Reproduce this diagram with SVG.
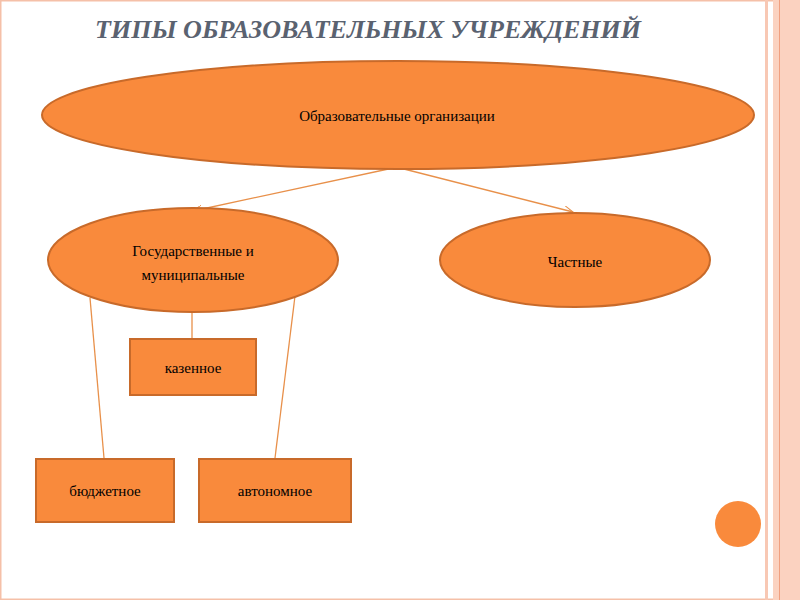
<svg xmlns="http://www.w3.org/2000/svg" width="800" height="600" viewBox="0 0 800 600">
<style>
.n{fill:#f98a3c;stroke:#c86a2a;stroke-width:2}
.t{font-family:"Liberation Serif",serif;font-size:15px;fill:#000;text-anchor:middle}
.c{stroke:#e8904a;stroke-width:1.3;fill:none}
</style>
<defs><marker id="a" markerWidth="10" markerHeight="8" refX="9" refY="4" orient="auto" markerUnits="userSpaceOnUse"><path d="M0,0 L9,4 L0,8" fill="none" stroke="#e8904a"/></marker></defs>
<rect width="800" height="600" fill="#fff"/>
<rect x="0" y="0" width="800" height="600" fill="none" stroke="#f5c0a8" stroke-width="3"/>
<rect x="765" y="0" width="3" height="600" fill="#f8c8b4"/>
<rect x="773" y="0" width="27" height="600" fill="#fbd2c0"/>
<rect x="779" y="0" width="1" height="600" fill="#f0a080"/>
<text x="368" y="38" font-family="Liberation Serif,serif" font-size="26" font-style="italic" font-weight="bold" fill="#5a6270" text-anchor="middle">ТИПЫ ОБРАЗОВАТЕЛЬНЫХ УЧРЕЖДЕНИЙ</text>
<g id="connectors">
<line class="c" x1="393" y1="168" x2="193" y2="211" marker-end="url(#a)"/>
<line class="c" x1="400" y1="168" x2="573" y2="212" marker-end="url(#a)"/>
<line class="c" x1="192" y1="312" x2="192" y2="338"/>
<line class="c" x1="90" y1="298" x2="104" y2="458"/>
<line class="c" x1="295" y1="296" x2="275" y2="458"/>
</g>
<g id="org"><ellipse class="n" cx="398" cy="115" rx="356" ry="54"/><text class="t" x="397" y="121">Образовательные организации</text></g>
<g id="gos"><ellipse class="n" cx="193" cy="260" rx="145" ry="52"/><text class="t" x="193" y="256">Государственные и</text><text class="t" x="193" y="280">муниципальные</text></g>
<g id="priv"><ellipse class="n" cx="575" cy="260" rx="135" ry="47"/><text class="t" x="575" y="267">Частные</text></g>
<g id="kaz"><rect class="n" x="130" y="339" width="126" height="56"/><text class="t" x="193" y="373">казенное</text></g>
<g id="bud"><rect class="n" x="36" y="459" width="138" height="63"/><text class="t" x="105" y="496">бюджетное</text></g>
<g id="avt"><rect class="n" x="199" y="459" width="152" height="63"/><text class="t" x="275" y="496">автономное</text></g>
<circle cx="738" cy="524" r="23" fill="#f98a3c"/>
</svg>
